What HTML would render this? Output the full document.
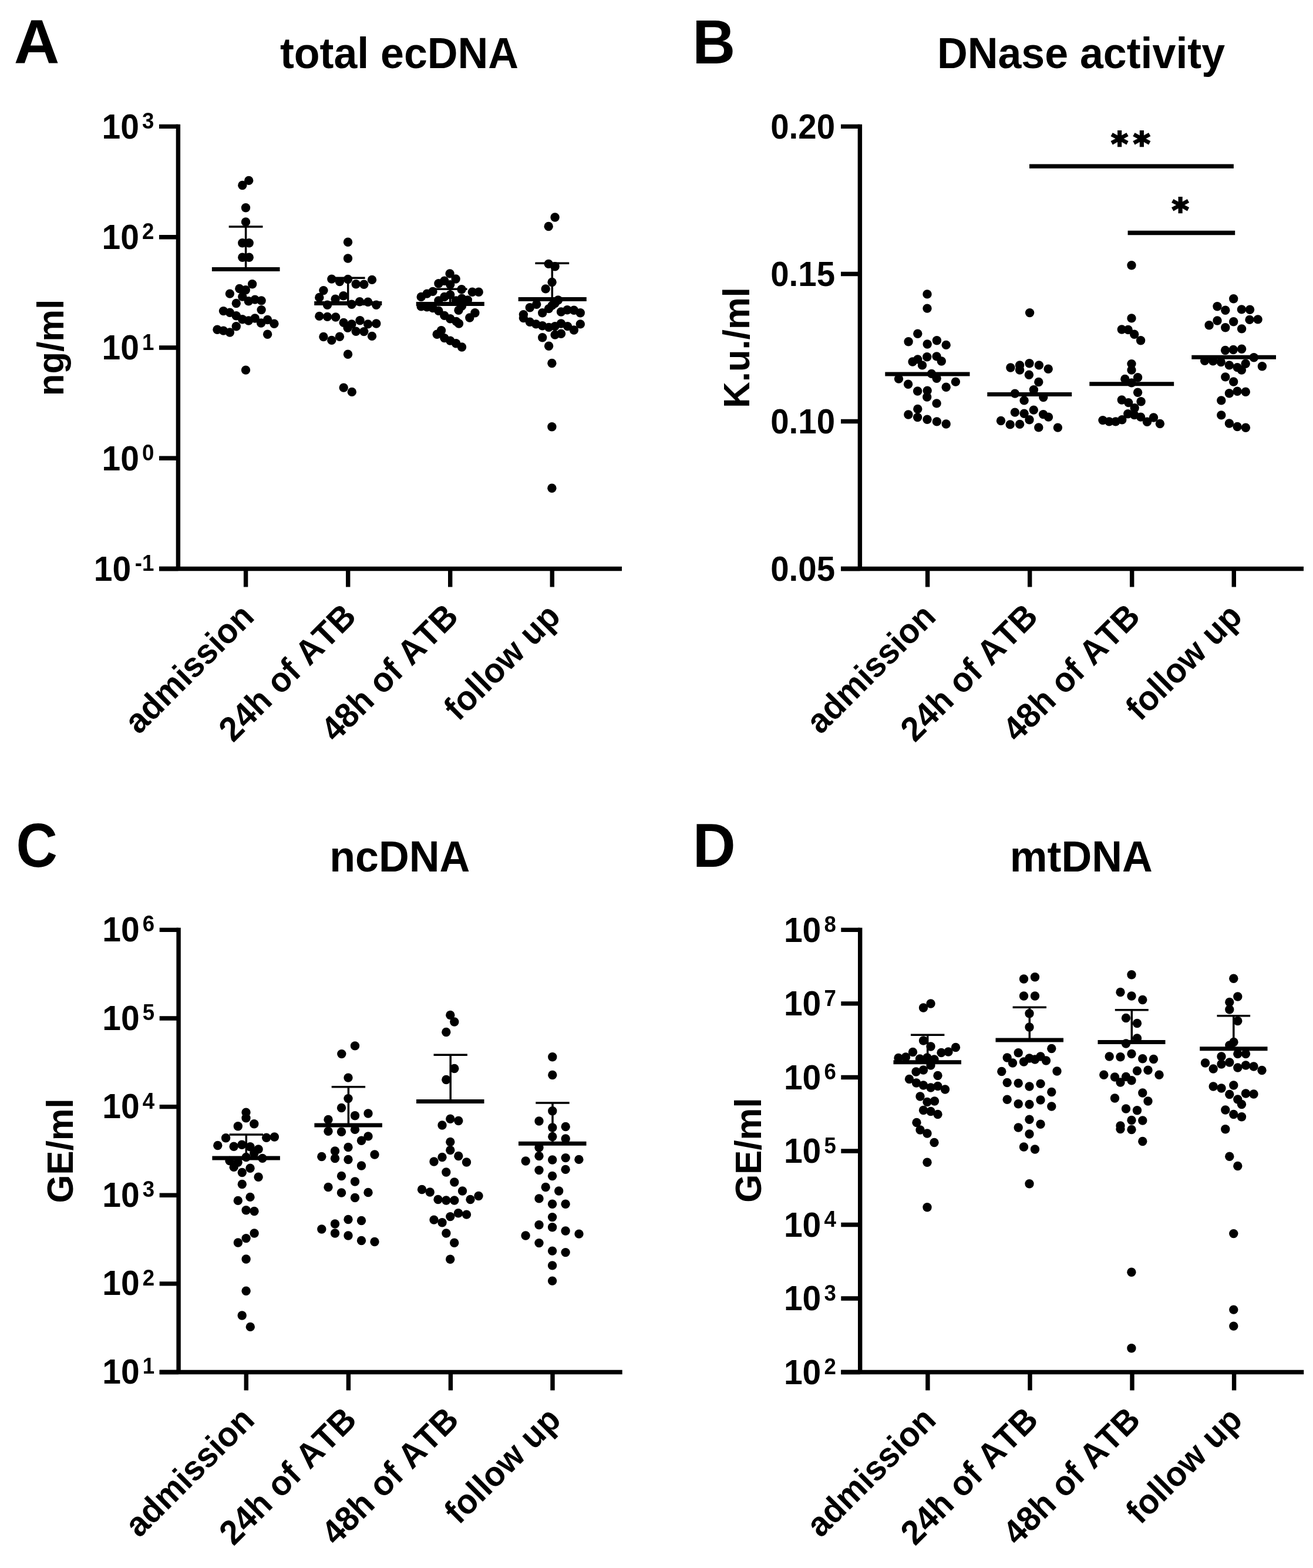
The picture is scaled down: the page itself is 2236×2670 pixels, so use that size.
<!DOCTYPE html>
<html lang="en"><head><meta charset="utf-8"><title>ecDNA figure</title>
<style>
html,body{margin:0;padding:0;background:#fff;}
body{width:2236px;height:2670px;overflow:hidden;font-family:"Liberation Sans",Arial,sans-serif;}
svg{display:block;}
svg text{fill:#000;font-kerning:none;}
</style></head><body>
<svg width="2236" height="2670" viewBox="0 0 2236 2670">
<rect width="2236" height="2670" fill="#fff"/>
<g transform="translate(0,0)">
<text transform="translate(23.80,108.10) scale(1.064,1.05)" font-size="101" font-family="Liberation Sans, Arial, Helvetica, sans-serif" font-weight="bold">A</text>
<text transform="translate(680.00,116.30) scale(1.0,1.04)" font-size="71.7" text-anchor="middle" font-family="Liberation Sans, Arial, Helvetica, sans-serif" font-weight="bold">total ecDNA</text>
<path d="M303.4 211.70 V972.20 M271 968.5 H1059" stroke="#000" stroke-width="7.4" fill="none"/>
<text transform="translate(0,235.70) scale(1,1.04)" font-size="57" text-anchor="end" font-family="Liberation Sans, Arial, Helvetica, sans-serif" font-weight="bold"><tspan x="237">10</tspan><tspan x="262.5" dy="-15.87" font-size="36.69">3</tspan></text>
<text transform="translate(0,423.98) scale(1,1.04)" font-size="57" text-anchor="end" font-family="Liberation Sans, Arial, Helvetica, sans-serif" font-weight="bold"><tspan x="237">10</tspan><tspan x="262.5" dy="-15.87" font-size="36.69">2</tspan></text>
<text transform="translate(0,612.25) scale(1,1.04)" font-size="57" text-anchor="end" font-family="Liberation Sans, Arial, Helvetica, sans-serif" font-weight="bold"><tspan x="237">10</tspan><tspan x="262.5" dy="-15.87" font-size="36.69">1</tspan></text>
<text transform="translate(0,800.52) scale(1,1.04)" font-size="57" text-anchor="end" font-family="Liberation Sans, Arial, Helvetica, sans-serif" font-weight="bold"><tspan x="237">10</tspan><tspan x="262.5" dy="-15.87" font-size="36.69">0</tspan></text>
<text transform="translate(0,988.80) scale(1,1.04)" font-size="57" text-anchor="end" font-family="Liberation Sans, Arial, Helvetica, sans-serif" font-weight="bold"><tspan x="223.2">10</tspan><tspan x="262.5" dy="-15.87" font-size="36.69">-1</tspan></text>
<path d="M271 215.40 H303.4 M271 403.68 H303.4 M271 591.95 H303.4 M271 780.23 H303.4 M271 968.50 H303.4 M418.6 968.5 V999.5 M592.7 968.5 V999.5 M766.7 968.5 V999.5 M940.3 968.5 V999.5 " stroke="#000" stroke-width="7.4" fill="none"/>
<text transform="translate(435.60,1053.00) rotate(-45) scale(1.0,1.03)" font-size="57" text-anchor="end" font-family="Liberation Sans, Arial, Helvetica, sans-serif" font-weight="bold">admission</text>
<text transform="translate(609.70,1053.00) rotate(-45) scale(1.0,1.03)" font-size="57" text-anchor="end" font-family="Liberation Sans, Arial, Helvetica, sans-serif" font-weight="bold">24h of ATB</text>
<text transform="translate(783.70,1053.00) rotate(-45) scale(1.0,1.03)" font-size="57" text-anchor="end" font-family="Liberation Sans, Arial, Helvetica, sans-serif" font-weight="bold">48h of ATB</text>
<text transform="translate(957.30,1053.00) rotate(-45) scale(1.0,1.03)" font-size="57" text-anchor="end" font-family="Liberation Sans, Arial, Helvetica, sans-serif" font-weight="bold">follow up</text>
<text transform="translate(108.00,591.95) rotate(-90) scale(1.0,1.035)" font-size="61.7" text-anchor="middle" font-family="Liberation Sans, Arial, Helvetica, sans-serif" font-weight="bold">ng/ml</text>
<circle cx="423.7" cy="307.4" r="7.7"/>
<circle cx="412.8" cy="315.5" r="7.7"/>
<circle cx="418.5" cy="353.8" r="7.7"/>
<circle cx="418.5" cy="377.9" r="7.7"/>
<circle cx="412.8" cy="413.7" r="7.7"/>
<circle cx="424.2" cy="413.7" r="7.7"/>
<circle cx="412.8" cy="438.2" r="7.7"/>
<circle cx="424.2" cy="438.2" r="7.7"/>
<circle cx="429.6" cy="483.7" r="7.7"/>
<circle cx="407.8" cy="491.5" r="7.7"/>
<circle cx="418.3" cy="493.7" r="7.7"/>
<circle cx="391.4" cy="500.1" r="7.7"/>
<circle cx="412.8" cy="505.1" r="7.7"/>
<circle cx="423.3" cy="512.8" r="7.7"/>
<circle cx="434.2" cy="510.1" r="7.7"/>
<circle cx="445.1" cy="511.9" r="7.7"/>
<circle cx="402.3" cy="516.5" r="7.7"/>
<circle cx="445.1" cy="527.6" r="7.7"/>
<circle cx="380.5" cy="529.6" r="7.7"/>
<circle cx="391.4" cy="532.3" r="7.7"/>
<circle cx="402.3" cy="537.8" r="7.7"/>
<circle cx="412.8" cy="543.8" r="7.7"/>
<circle cx="423.3" cy="546.0" r="7.7"/>
<circle cx="434.2" cy="542.0" r="7.7"/>
<circle cx="444.6" cy="550.0" r="7.7"/>
<circle cx="455.6" cy="544.5" r="7.7"/>
<circle cx="466.9" cy="551.2" r="7.7"/>
<circle cx="402.3" cy="555.8" r="7.7"/>
<circle cx="370.0" cy="561.3" r="7.7"/>
<circle cx="380.5" cy="563.1" r="7.7"/>
<circle cx="391.4" cy="566.0" r="7.7"/>
<circle cx="455.6" cy="569.2" r="7.7"/>
<circle cx="418.5" cy="630.1" r="7.7"/>
<circle cx="592.5" cy="412.3" r="7.7"/>
<circle cx="592.5" cy="440.0" r="7.7"/>
<circle cx="564.8" cy="475.1" r="7.7"/>
<circle cx="578.4" cy="479.6" r="7.7"/>
<circle cx="592.5" cy="475.5" r="7.7"/>
<circle cx="606.2" cy="483.7" r="7.7"/>
<circle cx="619.8" cy="484.2" r="7.7"/>
<circle cx="633.5" cy="476.4" r="7.7"/>
<circle cx="550.9" cy="494.6" r="7.7"/>
<circle cx="543.8" cy="506.5" r="7.7"/>
<circle cx="571.1" cy="509.2" r="7.7"/>
<circle cx="584.8" cy="503.7" r="7.7"/>
<circle cx="557.5" cy="519.2" r="7.7"/>
<circle cx="598.9" cy="518.3" r="7.7"/>
<circle cx="612.5" cy="513.7" r="7.7"/>
<circle cx="626.6" cy="514.2" r="7.7"/>
<circle cx="640.8" cy="519.2" r="7.7"/>
<circle cx="543.8" cy="538.4" r="7.7"/>
<circle cx="557.5" cy="539.4" r="7.7"/>
<circle cx="571.6" cy="540.0" r="7.7"/>
<circle cx="585.2" cy="549.4" r="7.7"/>
<circle cx="598.9" cy="552.0" r="7.7"/>
<circle cx="613.0" cy="545.7" r="7.7"/>
<circle cx="626.6" cy="551.9" r="7.7"/>
<circle cx="640.8" cy="551.0" r="7.7"/>
<circle cx="592.1" cy="558.2" r="7.7"/>
<circle cx="606.2" cy="564.2" r="7.7"/>
<circle cx="619.8" cy="564.6" r="7.7"/>
<circle cx="550.9" cy="573.5" r="7.7"/>
<circle cx="564.8" cy="579.4" r="7.7"/>
<circle cx="578.4" cy="573.3" r="7.7"/>
<circle cx="633.5" cy="572.4" r="7.7"/>
<circle cx="592.5" cy="603.2" r="7.7"/>
<circle cx="585.2" cy="660.1" r="7.7"/>
<circle cx="599.3" cy="667.4" r="7.7"/>
<circle cx="717.2" cy="505.5" r="7.7"/>
<circle cx="717.2" cy="521.9" r="7.7"/>
<circle cx="727.1" cy="500.1" r="7.7"/>
<circle cx="727.1" cy="522.8" r="7.7"/>
<circle cx="737.0" cy="496.4" r="7.7"/>
<circle cx="737.0" cy="524.6" r="7.7"/>
<circle cx="746.9" cy="482.8" r="7.7"/>
<circle cx="746.9" cy="511.9" r="7.7"/>
<circle cx="746.9" cy="529.2" r="7.7"/>
<circle cx="744.2" cy="569.2" r="7.7"/>
<circle cx="756.8" cy="478.2" r="7.7"/>
<circle cx="756.8" cy="505.5" r="7.7"/>
<circle cx="756.8" cy="537.4" r="7.7"/>
<circle cx="751.5" cy="562.8" r="7.7"/>
<circle cx="756.8" cy="575.6" r="7.7"/>
<circle cx="766.1" cy="465.9" r="7.7"/>
<circle cx="766.7" cy="484.6" r="7.7"/>
<circle cx="766.7" cy="501.9" r="7.7"/>
<circle cx="766.7" cy="542.8" r="7.7"/>
<circle cx="766.7" cy="580.1" r="7.7"/>
<circle cx="776.1" cy="475.0" r="7.7"/>
<circle cx="776.6" cy="511.9" r="7.7"/>
<circle cx="781.0" cy="528.3" r="7.7"/>
<circle cx="777.0" cy="547.4" r="7.7"/>
<circle cx="776.6" cy="584.7" r="7.7"/>
<circle cx="786.0" cy="492.8" r="7.7"/>
<circle cx="786.5" cy="508.3" r="7.7"/>
<circle cx="786.5" cy="521.0" r="7.7"/>
<circle cx="781.5" cy="551.0" r="7.7"/>
<circle cx="786.5" cy="591.0" r="7.7"/>
<circle cx="796.4" cy="511.0" r="7.7"/>
<circle cx="799.8" cy="541.0" r="7.7"/>
<circle cx="804.3" cy="497.3" r="7.7"/>
<circle cx="808.9" cy="532.8" r="7.7"/>
<circle cx="815.2" cy="497.3" r="7.7"/>
<circle cx="945.1" cy="370.0" r="7.7"/>
<circle cx="934.2" cy="385.5" r="7.7"/>
<circle cx="934.2" cy="449.4" r="7.7"/>
<circle cx="945.1" cy="453.7" r="7.7"/>
<circle cx="940.1" cy="480.5" r="7.7"/>
<circle cx="929.2" cy="491.9" r="7.7"/>
<circle cx="950.5" cy="511.0" r="7.7"/>
<circle cx="945.0" cy="516.5" r="7.7"/>
<circle cx="940.1" cy="520.1" r="7.7"/>
<circle cx="934.6" cy="525.6" r="7.7"/>
<circle cx="923.7" cy="532.8" r="7.7"/>
<circle cx="913.7" cy="518.3" r="7.7"/>
<circle cx="902.3" cy="523.7" r="7.7"/>
<circle cx="891.4" cy="535.6" r="7.7"/>
<circle cx="955.5" cy="531.0" r="7.7"/>
<circle cx="966.0" cy="527.8" r="7.7"/>
<circle cx="977.4" cy="528.3" r="7.7"/>
<circle cx="988.3" cy="532.8" r="7.7"/>
<circle cx="891.4" cy="541.5" r="7.7"/>
<circle cx="902.3" cy="548.3" r="7.7"/>
<circle cx="912.8" cy="551.9" r="7.7"/>
<circle cx="923.7" cy="554.7" r="7.7"/>
<circle cx="934.6" cy="557.4" r="7.7"/>
<circle cx="945.1" cy="555.6" r="7.7"/>
<circle cx="955.5" cy="551.0" r="7.7"/>
<circle cx="966.5" cy="555.6" r="7.7"/>
<circle cx="977.4" cy="562.0" r="7.7"/>
<circle cx="988.3" cy="551.9" r="7.7"/>
<circle cx="945.1" cy="570.1" r="7.7"/>
<circle cx="955.5" cy="568.3" r="7.7"/>
<circle cx="923.7" cy="574.7" r="7.7"/>
<circle cx="934.6" cy="589.2" r="7.7"/>
<circle cx="939.9" cy="618.5" r="7.7"/>
<circle cx="939.9" cy="726.8" r="7.7"/>
<circle cx="939.9" cy="831.2" r="7.7"/>
<path d="M360.9 458.4 H476.5" stroke="#000" stroke-width="7.0"/>
<path d="M535.2 516.5 H650.3" stroke="#000" stroke-width="7.0"/>
<path d="M708.7 517.4 H824.8" stroke="#000" stroke-width="7.0"/>
<path d="M882.7 509.4 H998.8" stroke="#000" stroke-width="7.0"/>
<path d="M418.6 386.1 V458.4 M389.7 386.1 H447.5" stroke="#000" stroke-width="3.5" fill="none"/>
<path d="M592.7 473.3 V516.5 M563.8 473.3 H621.6" stroke="#000" stroke-width="3.5" fill="none"/>
<path d="M766.7 492.3 V517.4 M737.8 492.3 H795.6" stroke="#000" stroke-width="3.5" fill="none"/>
<path d="M940.3 448.3 V509.4 M911.4 448.3 H969.2" stroke="#000" stroke-width="3.5" fill="none"/>
</g>
<g transform="translate(1161,0)">
<text transform="translate(18.20,108.10) scale(1.0,1.05)" font-size="101" font-family="Liberation Sans, Arial, Helvetica, sans-serif" font-weight="bold">B</text>
<text transform="translate(680.00,116.30) scale(1.0,1.04)" font-size="71.7" text-anchor="middle" font-family="Liberation Sans, Arial, Helvetica, sans-serif" font-weight="bold">DNase activity</text>
<path d="M303.4 211.70 V972.20 M271 968.5 H1059" stroke="#000" stroke-width="7.4" fill="none"/>
<text transform="translate(261.00,235.70) scale(1.0,1.06)" font-size="56.4" text-anchor="end" font-family="Liberation Sans, Arial, Helvetica, sans-serif" font-weight="bold">0.20</text>
<text transform="translate(261.00,486.73) scale(1.0,1.06)" font-size="56.4" text-anchor="end" font-family="Liberation Sans, Arial, Helvetica, sans-serif" font-weight="bold">0.15</text>
<text transform="translate(261.00,737.77) scale(1.0,1.06)" font-size="56.4" text-anchor="end" font-family="Liberation Sans, Arial, Helvetica, sans-serif" font-weight="bold">0.10</text>
<text transform="translate(261.00,988.80) scale(1.0,1.06)" font-size="56.4" text-anchor="end" font-family="Liberation Sans, Arial, Helvetica, sans-serif" font-weight="bold">0.05</text>
<path d="M271 215.40 H303.4 M271 466.43 H303.4 M271 717.47 H303.4 M271 968.50 H303.4 M418.6 968.5 V999.5 M592.7 968.5 V999.5 M766.7 968.5 V999.5 M940.3 968.5 V999.5 " stroke="#000" stroke-width="7.4" fill="none"/>
<text transform="translate(435.60,1053.00) rotate(-45) scale(1.0,1.03)" font-size="57" text-anchor="end" font-family="Liberation Sans, Arial, Helvetica, sans-serif" font-weight="bold">admission</text>
<text transform="translate(609.70,1053.00) rotate(-45) scale(1.0,1.03)" font-size="57" text-anchor="end" font-family="Liberation Sans, Arial, Helvetica, sans-serif" font-weight="bold">24h of ATB</text>
<text transform="translate(783.70,1053.00) rotate(-45) scale(1.0,1.03)" font-size="57" text-anchor="end" font-family="Liberation Sans, Arial, Helvetica, sans-serif" font-weight="bold">48h of ATB</text>
<text transform="translate(957.30,1053.00) rotate(-45) scale(1.0,1.03)" font-size="57" text-anchor="end" font-family="Liberation Sans, Arial, Helvetica, sans-serif" font-weight="bold">follow up</text>
<text transform="translate(115.10,591.95) rotate(-90) scale(1.0,1.035)" font-size="61.7" text-anchor="middle" font-family="Liberation Sans, Arial, Helvetica, sans-serif" font-weight="bold">K.u./ml</text>
<circle cx="418.0" cy="500.9" r="7.7"/>
<circle cx="418.0" cy="525.1" r="7.7"/>
<circle cx="401.8" cy="568.3" r="7.7"/>
<circle cx="386.1" cy="581.7" r="7.7"/>
<circle cx="418.2" cy="586.0" r="7.7"/>
<circle cx="434.4" cy="579.7" r="7.7"/>
<circle cx="450.2" cy="587.4" r="7.7"/>
<circle cx="417.7" cy="607.8" r="7.7"/>
<circle cx="434.1" cy="606.9" r="7.7"/>
<circle cx="401.8" cy="611.9" r="7.7"/>
<circle cx="393.1" cy="616.0" r="7.7"/>
<circle cx="442.3" cy="615.0" r="7.7"/>
<circle cx="409.5" cy="621.9" r="7.7"/>
<circle cx="425.4" cy="636.4" r="7.7"/>
<circle cx="369.5" cy="645.1" r="7.7"/>
<circle cx="434.1" cy="644.2" r="7.7"/>
<circle cx="466.4" cy="650.1" r="7.7"/>
<circle cx="385.6" cy="654.2" r="7.7"/>
<circle cx="450.2" cy="659.2" r="7.7"/>
<circle cx="401.6" cy="666.0" r="7.7"/>
<circle cx="418.2" cy="665.1" r="7.7"/>
<circle cx="417.7" cy="676.0" r="7.7"/>
<circle cx="434.1" cy="686.9" r="7.7"/>
<circle cx="401.8" cy="696.5" r="7.7"/>
<circle cx="385.9" cy="706.0" r="7.7"/>
<circle cx="401.6" cy="710.6" r="7.7"/>
<circle cx="418.0" cy="714.2" r="7.7"/>
<circle cx="434.4" cy="717.9" r="7.7"/>
<circle cx="450.2" cy="722.0" r="7.7"/>
<circle cx="592.6" cy="532.6" r="7.7"/>
<circle cx="559.9" cy="626.0" r="7.7"/>
<circle cx="575.6" cy="621.9" r="7.7"/>
<circle cx="575.6" cy="630.0" r="7.7"/>
<circle cx="592.0" cy="618.7" r="7.7"/>
<circle cx="608.4" cy="621.9" r="7.7"/>
<circle cx="624.2" cy="628.2" r="7.7"/>
<circle cx="591.4" cy="638.2" r="7.7"/>
<circle cx="607.8" cy="650.5" r="7.7"/>
<circle cx="599.4" cy="663.7" r="7.7"/>
<circle cx="567.4" cy="670.1" r="7.7"/>
<circle cx="583.1" cy="681.9" r="7.7"/>
<circle cx="615.8" cy="676.5" r="7.7"/>
<circle cx="599.3" cy="698.1" r="7.7"/>
<circle cx="567.4" cy="702.1" r="7.7"/>
<circle cx="583.1" cy="704.2" r="7.7"/>
<circle cx="615.6" cy="705.6" r="7.7"/>
<circle cx="624.5" cy="710.1" r="7.7"/>
<circle cx="592.0" cy="714.7" r="7.7"/>
<circle cx="543.5" cy="716.5" r="7.7"/>
<circle cx="559.2" cy="722.9" r="7.7"/>
<circle cx="575.6" cy="722.4" r="7.7"/>
<circle cx="607.8" cy="727.9" r="7.7"/>
<circle cx="640.4" cy="728.1" r="7.7"/>
<circle cx="766.0" cy="451.8" r="7.7"/>
<circle cx="766.0" cy="541.9" r="7.7"/>
<circle cx="749.3" cy="561.0" r="7.7"/>
<circle cx="760.2" cy="561.5" r="7.7"/>
<circle cx="770.7" cy="569.2" r="7.7"/>
<circle cx="781.6" cy="579.7" r="7.7"/>
<circle cx="766.0" cy="619.6" r="7.7"/>
<circle cx="766.0" cy="630.1" r="7.7"/>
<circle cx="754.8" cy="645.5" r="7.7"/>
<circle cx="776.6" cy="642.8" r="7.7"/>
<circle cx="766.0" cy="651.9" r="7.7"/>
<circle cx="776.6" cy="668.3" r="7.7"/>
<circle cx="749.3" cy="681.0" r="7.7"/>
<circle cx="760.7" cy="685.6" r="7.7"/>
<circle cx="782.1" cy="683.7" r="7.7"/>
<circle cx="771.2" cy="694.7" r="7.7"/>
<circle cx="717.0" cy="715.6" r="7.7"/>
<circle cx="727.9" cy="717.9" r="7.7"/>
<circle cx="738.9" cy="717.9" r="7.7"/>
<circle cx="749.8" cy="714.7" r="7.7"/>
<circle cx="759.8" cy="704.7" r="7.7"/>
<circle cx="770.7" cy="706.5" r="7.7"/>
<circle cx="781.6" cy="710.1" r="7.7"/>
<circle cx="792.5" cy="718.3" r="7.7"/>
<circle cx="803.5" cy="711.0" r="7.7"/>
<circle cx="814.4" cy="721.5" r="7.7"/>
<circle cx="939.7" cy="508.7" r="7.7"/>
<circle cx="912.0" cy="521.8" r="7.7"/>
<circle cx="925.8" cy="528.2" r="7.7"/>
<circle cx="953.4" cy="526.9" r="7.7"/>
<circle cx="967.5" cy="527.3" r="7.7"/>
<circle cx="912.0" cy="546.0" r="7.7"/>
<circle cx="898.1" cy="553.7" r="7.7"/>
<circle cx="939.7" cy="547.8" r="7.7"/>
<circle cx="967.0" cy="544.4" r="7.7"/>
<circle cx="981.1" cy="543.9" r="7.7"/>
<circle cx="925.8" cy="557.8" r="7.7"/>
<circle cx="953.6" cy="559.9" r="7.7"/>
<circle cx="925.6" cy="596.5" r="7.7"/>
<circle cx="939.3" cy="595.5" r="7.7"/>
<circle cx="953.6" cy="594.2" r="7.7"/>
<circle cx="974.3" cy="608.7" r="7.7"/>
<circle cx="890.6" cy="614.2" r="7.7"/>
<circle cx="904.7" cy="614.7" r="7.7"/>
<circle cx="918.3" cy="616.5" r="7.7"/>
<circle cx="932.4" cy="621.9" r="7.7"/>
<circle cx="946.1" cy="625.6" r="7.7"/>
<circle cx="960.2" cy="619.2" r="7.7"/>
<circle cx="953.4" cy="630.1" r="7.7"/>
<circle cx="988.4" cy="623.8" r="7.7"/>
<circle cx="925.8" cy="641.9" r="7.7"/>
<circle cx="939.7" cy="650.0" r="7.7"/>
<circle cx="932.4" cy="669.7" r="7.7"/>
<circle cx="946.1" cy="666.3" r="7.7"/>
<circle cx="960.3" cy="667.2" r="7.7"/>
<circle cx="918.8" cy="681.9" r="7.7"/>
<circle cx="918.8" cy="706.9" r="7.7"/>
<circle cx="932.4" cy="721.0" r="7.7"/>
<circle cx="946.1" cy="726.5" r="7.7"/>
<circle cx="960.4" cy="728.3" r="7.7"/>
<path d="M346.3 636.9 H490.5" stroke="#000" stroke-width="7.0"/>
<path d="M520.3 671.5 H664.2" stroke="#000" stroke-width="7.0"/>
<path d="M694.3 653.7 H838.2" stroke="#000" stroke-width="7.0"/>
<path d="M868.3 608.3 H1012.0" stroke="#000" stroke-width="7.0"/>
<path d="M592.0 283.1 H939.9" stroke="#000" stroke-width="7.4"/>
<path d="M759.6 396.5 H942.2" stroke="#000" stroke-width="7.4"/>
<text x="731.3" y="263.9" font-size="55" letter-spacing="8.9" font-family="DejaVu Sans, Liberation Sans, sans-serif" font-weight="bold" stroke="#000" stroke-width="2.6">**</text>
<text x="834.7" y="377.3" font-size="55" letter-spacing="8.9" font-family="DejaVu Sans, Liberation Sans, sans-serif" font-weight="bold" stroke="#000" stroke-width="2.6">*</text>
</g>
<g transform="translate(0.7,1368)">
<text transform="translate(26.70,108.10) scale(0.965,1.05)" font-size="101" font-family="Liberation Sans, Arial, Helvetica, sans-serif" font-weight="bold">C</text>
<text transform="translate(680.00,116.30) scale(1.0,1.04)" font-size="71.7" text-anchor="middle" font-family="Liberation Sans, Arial, Helvetica, sans-serif" font-weight="bold">ncDNA</text>
<path d="M303.4 211.70 V972.20 M271 968.5 H1059" stroke="#000" stroke-width="7.4" fill="none"/>
<text transform="translate(0,234.90) scale(1,1.04)" font-size="57" text-anchor="end" font-family="Liberation Sans, Arial, Helvetica, sans-serif" font-weight="bold"><tspan x="237">10</tspan><tspan x="262.5" dy="-15.87" font-size="36.69">6</tspan></text>
<text transform="translate(0,385.52) scale(1,1.04)" font-size="57" text-anchor="end" font-family="Liberation Sans, Arial, Helvetica, sans-serif" font-weight="bold"><tspan x="237">10</tspan><tspan x="262.5" dy="-15.87" font-size="36.69">5</tspan></text>
<text transform="translate(0,536.14) scale(1,1.04)" font-size="57" text-anchor="end" font-family="Liberation Sans, Arial, Helvetica, sans-serif" font-weight="bold"><tspan x="237">10</tspan><tspan x="262.5" dy="-15.87" font-size="36.69">4</tspan></text>
<text transform="translate(0,686.76) scale(1,1.04)" font-size="57" text-anchor="end" font-family="Liberation Sans, Arial, Helvetica, sans-serif" font-weight="bold"><tspan x="237">10</tspan><tspan x="262.5" dy="-15.87" font-size="36.69">3</tspan></text>
<text transform="translate(0,837.38) scale(1,1.04)" font-size="57" text-anchor="end" font-family="Liberation Sans, Arial, Helvetica, sans-serif" font-weight="bold"><tspan x="237">10</tspan><tspan x="262.5" dy="-15.87" font-size="36.69">2</tspan></text>
<text transform="translate(0,988.00) scale(1,1.04)" font-size="57" text-anchor="end" font-family="Liberation Sans, Arial, Helvetica, sans-serif" font-weight="bold"><tspan x="237">10</tspan><tspan x="262.5" dy="-15.87" font-size="36.69">1</tspan></text>
<path d="M271 215.40 H303.4 M271 366.02 H303.4 M271 516.64 H303.4 M271 667.26 H303.4 M271 817.88 H303.4 M271 968.50 H303.4 M418.6 968.5 V999.5 M592.7 968.5 V999.5 M766.7 968.5 V999.5 M940.3 968.5 V999.5 " stroke="#000" stroke-width="7.4" fill="none"/>
<text transform="translate(435.60,1053.00) rotate(-45) scale(1.0,1.03)" font-size="57" text-anchor="end" font-family="Liberation Sans, Arial, Helvetica, sans-serif" font-weight="bold">admission</text>
<text transform="translate(609.70,1053.00) rotate(-45) scale(1.0,1.03)" font-size="57" text-anchor="end" font-family="Liberation Sans, Arial, Helvetica, sans-serif" font-weight="bold">24h of ATB</text>
<text transform="translate(783.70,1053.00) rotate(-45) scale(1.0,1.03)" font-size="57" text-anchor="end" font-family="Liberation Sans, Arial, Helvetica, sans-serif" font-weight="bold">48h of ATB</text>
<text transform="translate(957.30,1053.00) rotate(-45) scale(1.0,1.03)" font-size="57" text-anchor="end" font-family="Liberation Sans, Arial, Helvetica, sans-serif" font-weight="bold">follow up</text>
<text transform="translate(123.50,591.35) rotate(-90) scale(1.0,1.035)" font-size="61.7" text-anchor="middle" font-family="Liberation Sans, Arial, Helvetica, sans-serif" font-weight="bold">GE/ml</text>
<circle cx="418.3" cy="526.1" r="7.7"/>
<circle cx="418.3" cy="535.7" r="7.7"/>
<circle cx="404.6" cy="549.8" r="7.7"/>
<circle cx="432.1" cy="545.7" r="7.7"/>
<circle cx="383.9" cy="569.8" r="7.7"/>
<circle cx="453.0" cy="569.3" r="7.7"/>
<circle cx="466.7" cy="568.0" r="7.7"/>
<circle cx="370.1" cy="582.5" r="7.7"/>
<circle cx="397.5" cy="584.3" r="7.7"/>
<circle cx="411.2" cy="581.2" r="7.7"/>
<circle cx="425.3" cy="584.8" r="7.7"/>
<circle cx="439.4" cy="588.9" r="7.7"/>
<circle cx="432.1" cy="595.7" r="7.7"/>
<circle cx="418.5" cy="602.5" r="7.7"/>
<circle cx="446.2" cy="604.4" r="7.7"/>
<circle cx="390.3" cy="608.5" r="7.7"/>
<circle cx="404.4" cy="611.2" r="7.7"/>
<circle cx="397.5" cy="619.4" r="7.7"/>
<circle cx="425.3" cy="621.2" r="7.7"/>
<circle cx="411.6" cy="628.5" r="7.7"/>
<circle cx="439.4" cy="636.2" r="7.7"/>
<circle cx="411.6" cy="648.5" r="7.7"/>
<circle cx="425.3" cy="670.4" r="7.7"/>
<circle cx="404.6" cy="676.4" r="7.7"/>
<circle cx="418.4" cy="692.7" r="7.7"/>
<circle cx="432.3" cy="694.5" r="7.7"/>
<circle cx="432.4" cy="732.0" r="7.7"/>
<circle cx="418.4" cy="740.6" r="7.7"/>
<circle cx="404.7" cy="748.0" r="7.7"/>
<circle cx="418.4" cy="776.0" r="7.7"/>
<circle cx="418.4" cy="830.3" r="7.7"/>
<circle cx="411.5" cy="872.0" r="7.7"/>
<circle cx="425.6" cy="891.4" r="7.7"/>
<circle cx="603.8" cy="412.9" r="7.7"/>
<circle cx="581.1" cy="426.6" r="7.7"/>
<circle cx="592.3" cy="467.1" r="7.7"/>
<circle cx="592.3" cy="502.6" r="7.7"/>
<circle cx="580.8" cy="518.5" r="7.7"/>
<circle cx="603.8" cy="531.7" r="7.7"/>
<circle cx="626.3" cy="528.0" r="7.7"/>
<circle cx="558.3" cy="538.5" r="7.7"/>
<circle cx="558.3" cy="558.3" r="7.7"/>
<circle cx="580.8" cy="559.2" r="7.7"/>
<circle cx="603.8" cy="555.4" r="7.7"/>
<circle cx="626.3" cy="566.9" r="7.7"/>
<circle cx="614.8" cy="574.3" r="7.7"/>
<circle cx="592.3" cy="585.5" r="7.7"/>
<circle cx="569.8" cy="592.0" r="7.7"/>
<circle cx="569.8" cy="604.5" r="7.7"/>
<circle cx="547.1" cy="601.5" r="7.7"/>
<circle cx="592.3" cy="606.5" r="7.7"/>
<circle cx="637.3" cy="598.0" r="7.7"/>
<circle cx="614.8" cy="617.0" r="7.7"/>
<circle cx="580.8" cy="634.5" r="7.7"/>
<circle cx="603.8" cy="644.0" r="7.7"/>
<circle cx="558.3" cy="653.5" r="7.7"/>
<circle cx="580.8" cy="663.0" r="7.7"/>
<circle cx="626.3" cy="662.5" r="7.7"/>
<circle cx="603.8" cy="671.5" r="7.7"/>
<circle cx="592.3" cy="708.5" r="7.7"/>
<circle cx="614.8" cy="710.5" r="7.7"/>
<circle cx="569.8" cy="716.0" r="7.7"/>
<circle cx="547.1" cy="725.0" r="7.7"/>
<circle cx="569.8" cy="732.0" r="7.7"/>
<circle cx="592.3" cy="736.0" r="7.7"/>
<circle cx="614.8" cy="744.5" r="7.7"/>
<circle cx="637.3" cy="746.5" r="7.7"/>
<circle cx="766.1" cy="360.5" r="7.7"/>
<circle cx="773.1" cy="372.0" r="7.7"/>
<circle cx="759.1" cy="389.5" r="7.7"/>
<circle cx="773.1" cy="451.5" r="7.7"/>
<circle cx="759.1" cy="470.5" r="7.7"/>
<circle cx="766.1" cy="537.3" r="7.7"/>
<circle cx="780.1" cy="540.5" r="7.7"/>
<circle cx="752.3" cy="548.0" r="7.7"/>
<circle cx="766.1" cy="576.5" r="7.7"/>
<circle cx="766.1" cy="590.5" r="7.7"/>
<circle cx="752.3" cy="602.5" r="7.7"/>
<circle cx="780.1" cy="600.5" r="7.7"/>
<circle cx="738.3" cy="610.0" r="7.7"/>
<circle cx="793.8" cy="611.0" r="7.7"/>
<circle cx="759.1" cy="628.0" r="7.7"/>
<circle cx="773.1" cy="645.0" r="7.7"/>
<circle cx="786.8" cy="660.0" r="7.7"/>
<circle cx="717.8" cy="657.5" r="7.7"/>
<circle cx="731.5" cy="662.0" r="7.7"/>
<circle cx="745.3" cy="674.5" r="7.7"/>
<circle cx="759.1" cy="676.0" r="7.7"/>
<circle cx="773.1" cy="676.0" r="7.7"/>
<circle cx="800.3" cy="674.5" r="7.7"/>
<circle cx="814.3" cy="668.5" r="7.7"/>
<circle cx="779.8" cy="697.7" r="7.7"/>
<circle cx="793.8" cy="700.1" r="7.7"/>
<circle cx="766.1" cy="703.6" r="7.7"/>
<circle cx="738.3" cy="709.1" r="7.7"/>
<circle cx="752.3" cy="713.7" r="7.7"/>
<circle cx="759.2" cy="732.0" r="7.7"/>
<circle cx="773.0" cy="748.2" r="7.7"/>
<circle cx="766.0" cy="776.2" r="7.7"/>
<circle cx="940.1" cy="431.8" r="7.7"/>
<circle cx="940.1" cy="462.5" r="7.7"/>
<circle cx="940.1" cy="523.8" r="7.7"/>
<circle cx="917.3" cy="541.0" r="7.7"/>
<circle cx="940.1" cy="552.0" r="7.7"/>
<circle cx="962.5" cy="550.5" r="7.7"/>
<circle cx="940.1" cy="567.5" r="7.7"/>
<circle cx="962.5" cy="571.0" r="7.7"/>
<circle cx="917.3" cy="586.0" r="7.7"/>
<circle cx="917.3" cy="600.5" r="7.7"/>
<circle cx="894.5" cy="609.0" r="7.7"/>
<circle cx="940.0" cy="607.0" r="7.7"/>
<circle cx="962.5" cy="603.6" r="7.7"/>
<circle cx="985.2" cy="606.4" r="7.7"/>
<circle cx="917.3" cy="624.6" r="7.7"/>
<circle cx="962.4" cy="623.4" r="7.7"/>
<circle cx="939.9" cy="634.5" r="7.7"/>
<circle cx="928.5" cy="653.5" r="7.7"/>
<circle cx="951.0" cy="660.0" r="7.7"/>
<circle cx="917.3" cy="672.9" r="7.7"/>
<circle cx="939.9" cy="682.3" r="7.7"/>
<circle cx="962.4" cy="682.3" r="7.7"/>
<circle cx="939.9" cy="704.6" r="7.7"/>
<circle cx="917.3" cy="717.7" r="7.7"/>
<circle cx="939.9" cy="721.7" r="7.7"/>
<circle cx="962.4" cy="728.0" r="7.7"/>
<circle cx="985.3" cy="733.1" r="7.7"/>
<circle cx="894.4" cy="736.0" r="7.7"/>
<circle cx="917.3" cy="748.6" r="7.7"/>
<circle cx="939.9" cy="762.1" r="7.7"/>
<circle cx="962.4" cy="764.6" r="7.7"/>
<circle cx="939.9" cy="786.9" r="7.7"/>
<circle cx="939.9" cy="813.1" r="7.7"/>
<path d="M360.7 604.1 H476.2" stroke="#000" stroke-width="7.0"/>
<path d="M534.7 548.0 H650.2" stroke="#000" stroke-width="7.0"/>
<path d="M708.3 507.5 H823.8" stroke="#000" stroke-width="7.0"/>
<path d="M882.3 579.2 H997.8" stroke="#000" stroke-width="7.0"/>
<path d="M418.6 564.1 V604.1 M389.9 564.1 H447.3" stroke="#000" stroke-width="3.5" fill="none"/>
<path d="M592.7 482.8 V548.0 M564.0 482.8 H621.4" stroke="#000" stroke-width="3.5" fill="none"/>
<path d="M766.5 428.2 V507.5 M737.8 428.2 H795.2" stroke="#000" stroke-width="3.5" fill="none"/>
<path d="M940.3 510.0 V579.2 M911.6 510.0 H969.0" stroke="#000" stroke-width="3.5" fill="none"/>
</g>
<g transform="translate(1161.3,1368)">
<text transform="translate(18.50,108.10) scale(1.0,1.05)" font-size="101" font-family="Liberation Sans, Arial, Helvetica, sans-serif" font-weight="bold">D</text>
<text transform="translate(680.00,116.30) scale(1.0,1.04)" font-size="71.7" text-anchor="middle" font-family="Liberation Sans, Arial, Helvetica, sans-serif" font-weight="bold">mtDNA</text>
<path d="M303.4 211.70 V972.20 M271 968.5 H1059" stroke="#000" stroke-width="7.4" fill="none"/>
<text transform="translate(0,235.70) scale(1,1.04)" font-size="57" text-anchor="end" font-family="Liberation Sans, Arial, Helvetica, sans-serif" font-weight="bold"><tspan x="237">10</tspan><tspan x="262.5" dy="-15.87" font-size="36.69">8</tspan></text>
<text transform="translate(0,361.22) scale(1,1.04)" font-size="57" text-anchor="end" font-family="Liberation Sans, Arial, Helvetica, sans-serif" font-weight="bold"><tspan x="237">10</tspan><tspan x="262.5" dy="-15.87" font-size="36.69">7</tspan></text>
<text transform="translate(0,486.73) scale(1,1.04)" font-size="57" text-anchor="end" font-family="Liberation Sans, Arial, Helvetica, sans-serif" font-weight="bold"><tspan x="237">10</tspan><tspan x="262.5" dy="-15.87" font-size="36.69">6</tspan></text>
<text transform="translate(0,612.25) scale(1,1.04)" font-size="57" text-anchor="end" font-family="Liberation Sans, Arial, Helvetica, sans-serif" font-weight="bold"><tspan x="237">10</tspan><tspan x="262.5" dy="-15.87" font-size="36.69">5</tspan></text>
<text transform="translate(0,737.77) scale(1,1.04)" font-size="57" text-anchor="end" font-family="Liberation Sans, Arial, Helvetica, sans-serif" font-weight="bold"><tspan x="237">10</tspan><tspan x="262.5" dy="-15.87" font-size="36.69">4</tspan></text>
<text transform="translate(0,863.28) scale(1,1.04)" font-size="57" text-anchor="end" font-family="Liberation Sans, Arial, Helvetica, sans-serif" font-weight="bold"><tspan x="237">10</tspan><tspan x="262.5" dy="-15.87" font-size="36.69">3</tspan></text>
<text transform="translate(0,988.80) scale(1,1.04)" font-size="57" text-anchor="end" font-family="Liberation Sans, Arial, Helvetica, sans-serif" font-weight="bold"><tspan x="237">10</tspan><tspan x="262.5" dy="-15.87" font-size="36.69">2</tspan></text>
<path d="M271 215.40 H303.4 M271 340.92 H303.4 M271 466.43 H303.4 M271 591.95 H303.4 M271 717.47 H303.4 M271 842.98 H303.4 M271 968.50 H303.4 M418.6 968.5 V999.5 M592.7 968.5 V999.5 M766.7 968.5 V999.5 M940.3 968.5 V999.5 " stroke="#000" stroke-width="7.4" fill="none"/>
<text transform="translate(435.60,1053.00) rotate(-45) scale(1.0,1.03)" font-size="57" text-anchor="end" font-family="Liberation Sans, Arial, Helvetica, sans-serif" font-weight="bold">admission</text>
<text transform="translate(609.70,1053.00) rotate(-45) scale(1.0,1.03)" font-size="57" text-anchor="end" font-family="Liberation Sans, Arial, Helvetica, sans-serif" font-weight="bold">24h of ATB</text>
<text transform="translate(783.70,1053.00) rotate(-45) scale(1.0,1.03)" font-size="57" text-anchor="end" font-family="Liberation Sans, Arial, Helvetica, sans-serif" font-weight="bold">48h of ATB</text>
<text transform="translate(957.30,1053.00) rotate(-45) scale(1.0,1.03)" font-size="57" text-anchor="end" font-family="Liberation Sans, Arial, Helvetica, sans-serif" font-weight="bold">follow up</text>
<text transform="translate(134.20,590.55) rotate(-90) scale(1.0,1.035)" font-size="61.7" text-anchor="middle" font-family="Liberation Sans, Arial, Helvetica, sans-serif" font-weight="bold">GE/ml</text>
<circle cx="423.7" cy="341.0" r="7.7"/>
<circle cx="411.2" cy="348.0" r="7.7"/>
<circle cx="411.2" cy="404.0" r="7.7"/>
<circle cx="423.7" cy="414.0" r="7.7"/>
<circle cx="393.2" cy="423.5" r="7.7"/>
<circle cx="466.2" cy="415.5" r="7.7"/>
<circle cx="453.7" cy="423.0" r="7.7"/>
<circle cx="441.7" cy="424.5" r="7.7"/>
<circle cx="368.7" cy="433.5" r="7.7"/>
<circle cx="381.2" cy="432.0" r="7.7"/>
<circle cx="405.2" cy="435.0" r="7.7"/>
<circle cx="417.7" cy="433.0" r="7.7"/>
<circle cx="429.7" cy="436.0" r="7.7"/>
<circle cx="423.7" cy="446.0" r="7.7"/>
<circle cx="411.2" cy="454.0" r="7.7"/>
<circle cx="398.7" cy="457.0" r="7.7"/>
<circle cx="435.7" cy="463.5" r="7.7"/>
<circle cx="387.2" cy="469.5" r="7.7"/>
<circle cx="399.2" cy="476.0" r="7.7"/>
<circle cx="411.2" cy="480.0" r="7.7"/>
<circle cx="423.7" cy="484.0" r="7.7"/>
<circle cx="435.7" cy="481.5" r="7.7"/>
<circle cx="448.2" cy="487.0" r="7.7"/>
<circle cx="405.7" cy="499.0" r="7.7"/>
<circle cx="417.7" cy="508.5" r="7.7"/>
<circle cx="430.2" cy="507.0" r="7.7"/>
<circle cx="411.2" cy="522.5" r="7.7"/>
<circle cx="423.7" cy="524.5" r="7.7"/>
<circle cx="435.7" cy="529.5" r="7.7"/>
<circle cx="399.7" cy="543.5" r="7.7"/>
<circle cx="405.7" cy="556.0" r="7.7"/>
<circle cx="417.7" cy="562.0" r="7.7"/>
<circle cx="429.7" cy="577.5" r="7.7"/>
<circle cx="417.7" cy="611.2" r="7.7"/>
<circle cx="417.7" cy="687.8" r="7.7"/>
<circle cx="582.2" cy="299.0" r="7.7"/>
<circle cx="601.2" cy="295.8" r="7.7"/>
<circle cx="582.2" cy="328.0" r="7.7"/>
<circle cx="601.2" cy="328.0" r="7.7"/>
<circle cx="591.7" cy="357.8" r="7.7"/>
<circle cx="591.7" cy="381.0" r="7.7"/>
<circle cx="629.5" cy="417.5" r="7.7"/>
<circle cx="572.9" cy="424.8" r="7.7"/>
<circle cx="553.9" cy="433.0" r="7.7"/>
<circle cx="563.2" cy="442.0" r="7.7"/>
<circle cx="582.2" cy="440.0" r="7.7"/>
<circle cx="591.7" cy="434.0" r="7.7"/>
<circle cx="601.2" cy="436.0" r="7.7"/>
<circle cx="610.7" cy="431.0" r="7.7"/>
<circle cx="620.2" cy="438.0" r="7.7"/>
<circle cx="544.5" cy="456.5" r="7.7"/>
<circle cx="638.7" cy="456.0" r="7.7"/>
<circle cx="553.9" cy="475.5" r="7.7"/>
<circle cx="572.9" cy="476.5" r="7.7"/>
<circle cx="591.7" cy="482.0" r="7.7"/>
<circle cx="610.7" cy="477.4" r="7.7"/>
<circle cx="629.5" cy="491.5" r="7.7"/>
<circle cx="553.9" cy="504.2" r="7.7"/>
<circle cx="572.9" cy="511.8" r="7.7"/>
<circle cx="591.7" cy="512.5" r="7.7"/>
<circle cx="610.7" cy="505.0" r="7.7"/>
<circle cx="629.5" cy="516.0" r="7.7"/>
<circle cx="591.7" cy="538.2" r="7.7"/>
<circle cx="610.7" cy="546.2" r="7.7"/>
<circle cx="572.9" cy="552.0" r="7.7"/>
<circle cx="591.7" cy="563.0" r="7.7"/>
<circle cx="582.2" cy="585.0" r="7.7"/>
<circle cx="601.2" cy="589.0" r="7.7"/>
<circle cx="591.7" cy="647.8" r="7.7"/>
<circle cx="765.7" cy="291.8" r="7.7"/>
<circle cx="746.7" cy="321.5" r="7.7"/>
<circle cx="765.7" cy="328.0" r="7.7"/>
<circle cx="784.5" cy="334.5" r="7.7"/>
<circle cx="756.2" cy="365.5" r="7.7"/>
<circle cx="775.2" cy="374.5" r="7.7"/>
<circle cx="775.2" cy="400.0" r="7.7"/>
<circle cx="756.2" cy="409.0" r="7.7"/>
<circle cx="765.7" cy="426.5" r="7.7"/>
<circle cx="727.9" cy="431.0" r="7.7"/>
<circle cx="746.7" cy="431.8" r="7.7"/>
<circle cx="784.5" cy="434.8" r="7.7"/>
<circle cx="803.2" cy="435.5" r="7.7"/>
<circle cx="775.2" cy="455.5" r="7.7"/>
<circle cx="793.7" cy="454.3" r="7.7"/>
<circle cx="718.5" cy="462.3" r="7.7"/>
<circle cx="812.7" cy="462.3" r="7.7"/>
<circle cx="737.2" cy="466.0" r="7.7"/>
<circle cx="756.2" cy="465.5" r="7.7"/>
<circle cx="765.7" cy="471.7" r="7.7"/>
<circle cx="746.7" cy="475.0" r="7.7"/>
<circle cx="784.5" cy="493.0" r="7.7"/>
<circle cx="737.2" cy="502.0" r="7.7"/>
<circle cx="793.7" cy="507.0" r="7.7"/>
<circle cx="756.2" cy="520.0" r="7.7"/>
<circle cx="775.2" cy="522.8" r="7.7"/>
<circle cx="765.7" cy="539.5" r="7.7"/>
<circle cx="784.5" cy="540.0" r="7.7"/>
<circle cx="746.7" cy="549.0" r="7.7"/>
<circle cx="746.7" cy="554.5" r="7.7"/>
<circle cx="765.7" cy="555.5" r="7.7"/>
<circle cx="784.5" cy="575.5" r="7.7"/>
<circle cx="765.6" cy="798.3" r="7.7"/>
<circle cx="765.6" cy="927.8" r="7.7"/>
<circle cx="939.5" cy="298.2" r="7.7"/>
<circle cx="946.5" cy="329.0" r="7.7"/>
<circle cx="932.5" cy="338.5" r="7.7"/>
<circle cx="932.5" cy="351.0" r="7.7"/>
<circle cx="946.5" cy="370.5" r="7.7"/>
<circle cx="939.7" cy="406.5" r="7.7"/>
<circle cx="932.5" cy="412.0" r="7.7"/>
<circle cx="946.5" cy="426.5" r="7.7"/>
<circle cx="960.2" cy="426.5" r="7.7"/>
<circle cx="918.7" cy="431.0" r="7.7"/>
<circle cx="932.5" cy="441.0" r="7.7"/>
<circle cx="918.7" cy="444.0" r="7.7"/>
<circle cx="891.2" cy="442.0" r="7.7"/>
<circle cx="904.9" cy="452.0" r="7.7"/>
<circle cx="946.5" cy="450.0" r="7.7"/>
<circle cx="960.2" cy="446.0" r="7.7"/>
<circle cx="973.7" cy="448.0" r="7.7"/>
<circle cx="987.7" cy="454.5" r="7.7"/>
<circle cx="904.9" cy="482.0" r="7.7"/>
<circle cx="918.7" cy="485.0" r="7.7"/>
<circle cx="939.5" cy="480.0" r="7.7"/>
<circle cx="932.5" cy="495.5" r="7.7"/>
<circle cx="960.2" cy="494.0" r="7.7"/>
<circle cx="973.7" cy="495.0" r="7.7"/>
<circle cx="946.5" cy="504.0" r="7.7"/>
<circle cx="953.2" cy="512.5" r="7.7"/>
<circle cx="925.5" cy="522.0" r="7.7"/>
<circle cx="939.5" cy="529.5" r="7.7"/>
<circle cx="953.2" cy="533.8" r="7.7"/>
<circle cx="925.5" cy="554.8" r="7.7"/>
<circle cx="932.5" cy="601.2" r="7.7"/>
<circle cx="946.5" cy="617.5" r="7.7"/>
<circle cx="939.5" cy="732.6" r="7.7"/>
<circle cx="939.5" cy="862.1" r="7.7"/>
<circle cx="939.5" cy="890.1" r="7.7"/>
<path d="M360.2 440.8 H475.7" stroke="#000" stroke-width="7.0"/>
<path d="M534.2 403.0 H649.7" stroke="#000" stroke-width="7.0"/>
<path d="M708.2 406.5 H823.2" stroke="#000" stroke-width="7.0"/>
<path d="M881.9 417.8 H997.2" stroke="#000" stroke-width="7.0"/>
<path d="M418.4 394.2 V440.8 M389.7 394.2 H447.1" stroke="#000" stroke-width="3.5" fill="none"/>
<path d="M592.0 347.2 V403.0 M563.3 347.2 H620.7" stroke="#000" stroke-width="3.5" fill="none"/>
<path d="M766.0 351.8 V406.5 M737.5 351.8 H794.5" stroke="#000" stroke-width="3.5" fill="none"/>
<path d="M939.5 361.8 V417.8 M911.2 361.8 H967.8" stroke="#000" stroke-width="3.5" fill="none"/>
</g>
</svg>
</body></html>
